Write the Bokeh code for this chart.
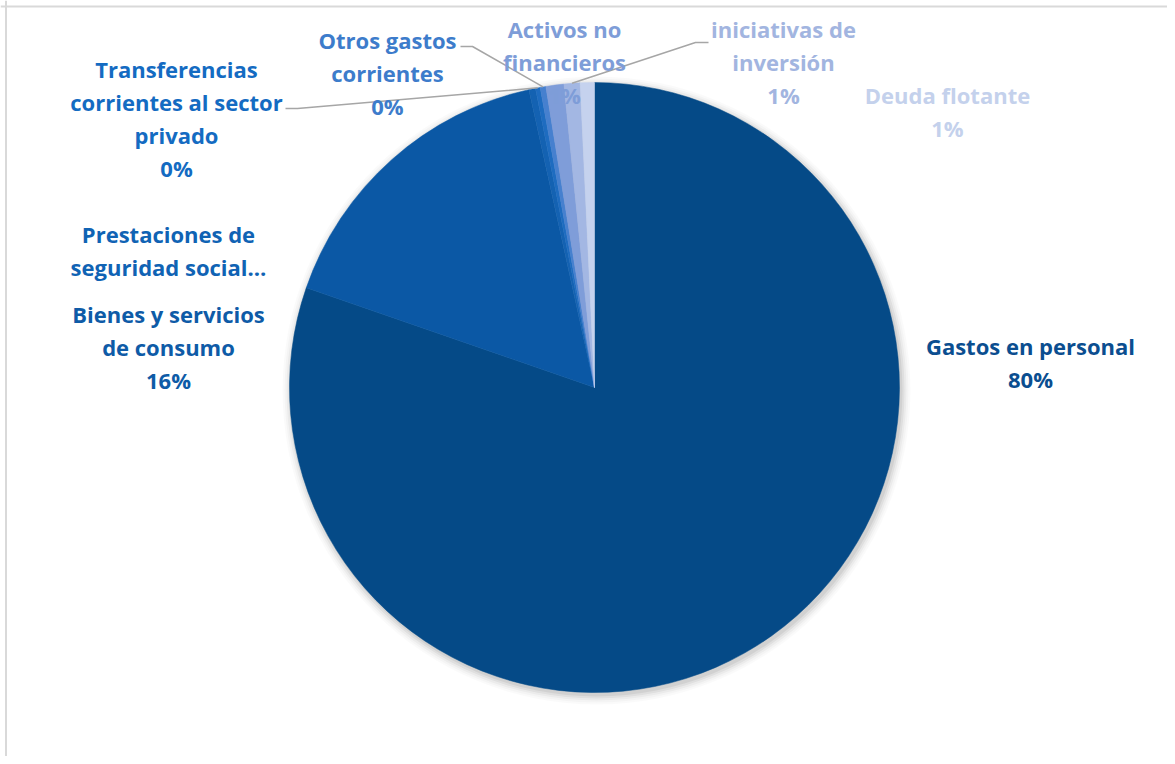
import math
from bokeh.plotting import figure
from bokeh.models import Range1d, Span, ColumnDataSource
from bokeh.core.properties import value
from bokeh.embed import file_html
from bokeh.resources import INLINE

# ---------------- data ----------------
categories = [
    "Gastos en personal",
    "Bienes y servicios de consumo",
    "Prestaciones de seguridad social",
    "Transferencias corrientes al sector privado",
    "Otros gastos corrientes",
    "Activos no financieros",
    "iniciativas de inversión",
    "Deuda flotante",
]
shares = [80.3, 16.25, 0.35, 0.25, 0.3, 0.95, 0.85, 0.75]
label_names = [
    "Gastos en personal",
    "Bienes y servicios\nde consumo",
    "Prestaciones de\nseguridad social…",
    "Transferencias\ncorrientes al sector\nprivado",
    "Otros gastos\ncorrientes",
    "Activos no\nfinancieros",
    "iniciativas de\ninversión",
    "Deuda flotante",
]
show_pct = [True, True, False, True, True, True, True, True]

# ---------------- styles / layout ----------------
slice_colors = ["#054A87", "#0B58A5", "#1462B2", "#1E6CC0", "#4680CF",
                "#7F9DD9", "#A3B7E3", "#C5D2EE"]
label_colors = ["#0B4E90", "#0E5BA7", "#1063B4", "#146BC2", "#3D7CCB",
                "#7E9DD8", "#A2B5E0", "#C4D1EC"]
# label block centres in image pixels
label_sx = [1030, 168, 168, 176, 387, 564, 783, 947]
label_sy = [362, 346, 250, 118, 72, 61, 61, 111]
# leader lines: (category index, elbow points in image pixels)
leaders = {
    3: [(297, 108), (285, 108)],
    4: [(472, 46), (460, 46)],
    6: [(695, 42), (708, 42)],
}

W, H = 1167, 756


def Y(sy):
    return H - sy


cx, cy, r = 594, Y(387), 305

p = figure(width=W, height=H, output_backend="svg", toolbar_location=None,
           x_range=Range1d(0, W), y_range=Range1d(0, H),
           x_axis_location=None, y_axis_location=None, min_border=0,
           background_fill_color="white", border_fill_color="white")
p.grid.visible = False
p.outline_line_color = None

# chart-area frame (top & left edges visible)
p.add_layout(Span(location=5.5, dimension="height", line_color="#D9D9D9", line_width=2))
p.add_layout(Span(location=Y(6), dimension="width", line_color="#D9D9D9", line_width=2))

# soft shadow
for k, a in [(9, 0.018), (7, 0.025), (5, 0.035), (3, 0.05), (1, 0.06)]:
    p.circle(x=[cx + 2], y=[cy - 3], radius=r + k, fill_color="black",
             fill_alpha=a, line_color=None)

# wedges
total = sum(shares)
starts, ends, mids = [], [], []
cum = 0.0
for s in shares:
    a0 = math.pi / 2 - 2 * math.pi * cum / total
    cum += s
    a1 = math.pi / 2 - 2 * math.pi * cum / total
    starts.append(a0)
    ends.append(a1)
    mids.append((a0 + a1) / 2)

src = ColumnDataSource(dict(start=starts, end=ends, color=slice_colors,
                            cat=categories, share=shares))
p.wedge(x=cx, y=cy, radius=r, start_angle="start", end_angle="end",
        direction="clock", fill_color="color", line_color="color",
        line_width=0.5, source=src)

# leader lines
xs, ys = [], []
for i, pts in leaders.items():
    ex = cx + r * math.cos(mids[i])
    ey = cy + r * math.sin(mids[i])
    xs.append([ex] + [pt[0] for pt in pts])
    ys.append([ey] + [Y(pt[1]) for pt in pts])
p.multi_line(xs=xs, ys=ys, line_color="#A6A6A6", line_width=1.5)

# labels
texts = []
for name, sh, sp in zip(label_names, shares, show_pct):
    t = name
    if sp:
        t += "\n%d%%" % int(round(sh))
    texts.append(t)

lsrc = ColumnDataSource(dict(x=label_sx, y=[Y(v) for v in label_sy],
                             text=texts, color=label_colors))
p.text(x="x", y="y", text="text", source=lsrc, text_align="center",
       text_baseline="middle", text_font=value("Open Sans"), text_font_style="bold",
       text_font_size="22px", text_line_height=1.1, text_color="color")

open("out.html", "w").write(file_html(p, INLINE))
